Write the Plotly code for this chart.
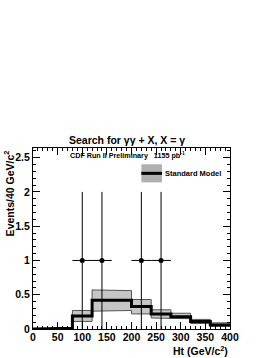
import plotly.graph_objects as go

# ---- data ----
bin_edges = [0, 40, 80, 120, 160, 200, 240, 280, 320, 360, 400]
sm_mean = [0.00, 0.01, 0.19, 0.42, 0.42, 0.33, 0.22, 0.18, 0.11, 0.06]
sm_low = [0.00, 0.005, 0.11, 0.26, 0.27, 0.22, 0.16, 0.15, 0.08, 0.04]
sm_high = [0.00, 0.015, 0.27, 0.57, 0.56, 0.43, 0.28, 0.23, 0.14, 0.09]
data_x = [100, 140, 220, 260]
data_y = [1, 1, 1, 1]
data_xerr = [20, 20, 20, 20]
data_yerr = [1, 1, 1, 1]
x_ticks = [0, 50, 100, 150, 200, 250, 300, 350, 400]
y_ticks = [0, 0.5, 1, 1.5, 2, 2.5]
y_tick_labels = ["0", "0.5", "1", "1.5", "2", "2.5"]


def steps(edges, vals):
    xs, ys = [], []
    for i, v in enumerate(vals):
        xs += [edges[i], edges[i + 1]]
        ys += [v, v]
    return xs, ys


FONT = "Liberation Sans"
fig = go.Figure()

bx, blo = steps(bin_edges, sm_low)
_, bhi = steps(bin_edges, sm_high)
fig.add_trace(go.Scatter(x=bx, y=blo, mode="lines", line=dict(color="#555555", width=1),
                         showlegend=False, hoverinfo="skip"))
fig.add_trace(go.Scatter(x=bx, y=bhi, mode="lines", line=dict(color="#555555", width=1),
                         fill="tonexty", fillcolor="#c6c6c6", showlegend=False, hoverinfo="skip"))
mx, my = steps(bin_edges, sm_mean)
fig.add_trace(go.Scatter(x=mx, y=my, mode="lines", line=dict(color="black", width=3),
                         showlegend=False, hoverinfo="skip"))

fig.add_trace(go.Scatter(
    x=data_x, y=data_y, mode="markers",
    marker=dict(color="black", size=5),
    error_x=dict(type="data", array=data_xerr, color="black", thickness=1, width=0),
    error_y=dict(type="data", array=data_yerr, color="black", thickness=1, width=0),
    showlegend=False, hoverinfo="skip"))

axis_common = dict(
    showgrid=False, zeroline=False, ticks="inside", mirror="allticks", showline=True,
    linecolor="black", linewidth=1, tickcolor="black", ticklen=7,
    tickfont=dict(family=FONT, size=10.5, color="black", weight="bold"),
)
fig.update_xaxes(range=[0, 400], tickvals=x_ticks, ticklabelstandoff=-2, **axis_common,
                 minor=dict(ticks="inside", ticklen=3, dtick=10, tickcolor="black"))
fig.update_yaxes(range=[0, 2.64], tickvals=y_ticks, ticktext=y_tick_labels, **axis_common,
                 minor=dict(ticks="inside", ticklen=3, dtick=0.1, tickcolor="black"))

# axis titles
fig.add_annotation(text="Ht (GeV/c<sup>2</sup>)", xref="paper", yref="paper", x=1, y=-0.12,
                   xanchor="right", yanchor="middle", showarrow=False,
                   font=dict(family=FONT, size=10.5, color="black", weight="bold"))
fig.add_annotation(text="Events/40 GeV/c<sup>2</sup>", xref="paper", yref="paper", x=-0.125, y=1,
                   xanchor="center", yanchor="top", textangle=-90, showarrow=False,
                   font=dict(family=FONT, size=10.5, color="black", weight="bold"))
fig.add_annotation(text="Search for γγ + X, X = γ", xref="paper", yref="paper", x=0.477, y=1.0,
                   xanchor="center", yanchor="bottom", showarrow=False,
                   font=dict(family=FONT, size=10.5, color="black", weight="bold"))
fig.add_annotation(text="CDF Run II Preliminary   1155 pb<sup>-1</sup>", xref="paper", yref="paper",
                   x=0.18, y=0.96, xanchor="left", yanchor="middle", showarrow=False,
                   font=dict(family=FONT, size=7.2, color="black", weight="bold"))
# legend
fig.add_shape(type="rect", xref="paper", yref="paper", x0=0.55, x1=0.655, y0=0.81, y1=0.91,
              fillcolor="#b0b0b0", line=dict(width=0))
fig.add_shape(type="line", xref="paper", yref="paper", x0=0.55, x1=0.655, y0=0.86, y1=0.86,
              line=dict(color="black", width=3))
fig.add_annotation(text="Standard Model", xref="paper", yref="paper", x=0.66, y=0.86,
                   xanchor="left", yanchor="middle", showarrow=False,
                   font=dict(family=FONT, size=7.5, color="black", weight="bold"))

fig.update_layout(width=276, height=358, margin=dict(l=33, r=46, t=148, b=29),
                  plot_bgcolor="white", paper_bgcolor="white", showlegend=False)
fig.write_html("out.html", config={"displayModeBar": False},
               post_script="document.body.style.margin='0';")
